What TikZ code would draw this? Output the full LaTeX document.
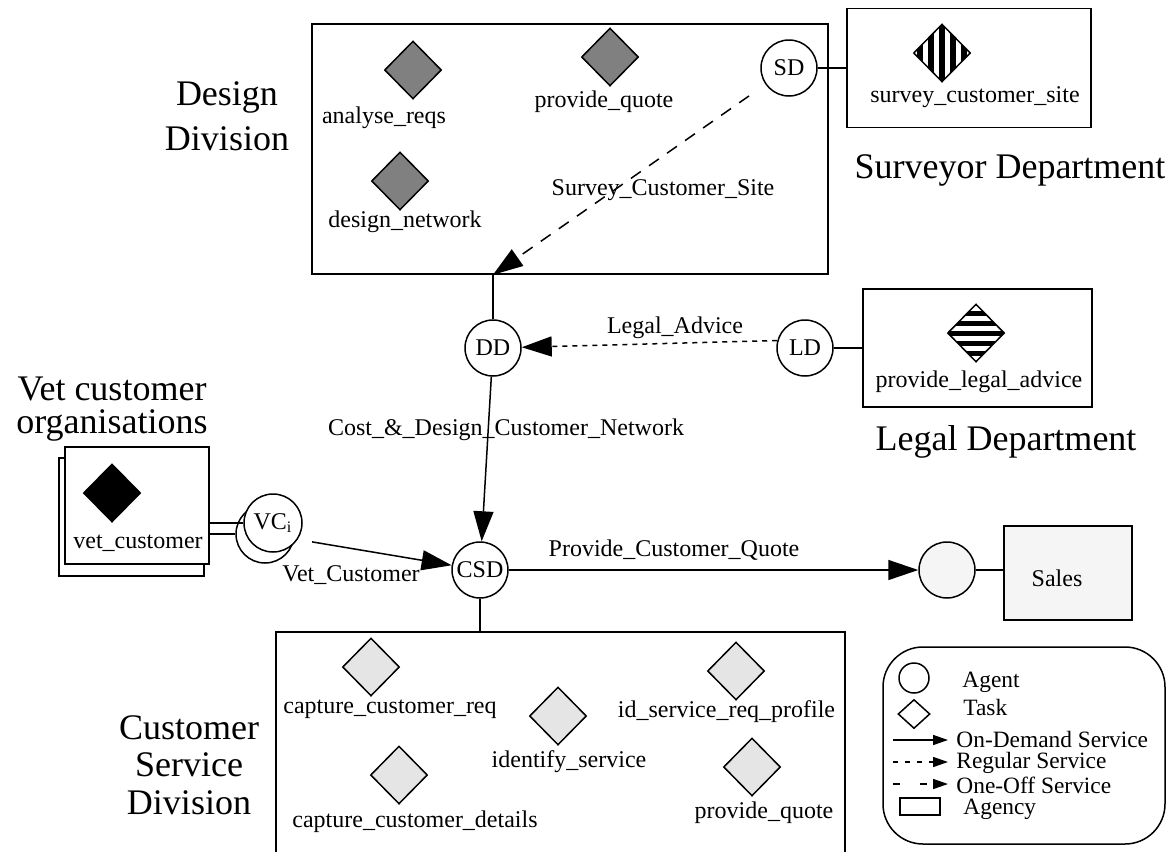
\documentclass[tikz,border=0pt]{standalone}
\usepackage{fontspec}
\setmainfont{Liberation Serif}
\usepackage{xcolor}
\usepackage{tikz}
\usetikzlibrary{shapes.geometric,arrows.meta}

\definecolor{taskdark}{RGB}{128,128,128}
\definecolor{tasklight}{RGB}{229,229,229}
\definecolor{salesfill}{RGB}{245,245,245}

\tikzset{
  agent/.style={circle,draw,line width=0.75pt,minimum size=28pt,inner sep=0pt,fill=white,font=\fontsize{12}{13}\selectfont},
  task/.style={diamond,draw,line width=0.75pt,minimum width=28.5pt,minimum height=29pt,inner sep=0pt},
  agency/.style={rectangle,draw,line width=0.75pt,inner sep=0pt},
  lbl/.style={font=\fontsize{12}{13}\selectfont,inner sep=0pt},
  lgd/.style={font=\fontsize{11.7}{12}\selectfont,inner sep=0pt,anchor=west},
  big/.style={align=center,inner sep=0pt},
  link/.style={line width=0.75pt},
  ondemand/.style={line width=0.75pt,-{Triangle[length=15pt,width=10pt]}},
  regular/.style={ondemand,dash pattern=on 2.5pt off 2.5pt},
  oneoff/.style={ondemand,dash pattern=on 6pt off 5pt},
  lgdondemand/.style={line width=0.75pt,-{Triangle[length=7.5pt,width=5pt]}},
  lgdregular/.style={lgdondemand,dash pattern=on 2.5pt off 3.5pt},
  lgdoneoff/.style={lgdondemand,dash pattern=on 3.5pt off 10pt},
  vstripes/.style={path picture={
    \foreach \k in {-3,...,3}
      \fill[black] ([xshift=\k*5.5pt-1.5pt,yshift=-16pt]path picture bounding box.center) rectangle ++(3pt,32pt);
  }},
  hstripes/.style={path picture={
    \foreach \k in {-3,...,3}
      \fill[black] ([yshift=\k*5pt-1.25pt,xshift=-16pt]path picture bounding box.center) rectangle ++(32pt,2.5pt);
  }}
}

\begin{document}
\begin{tikzpicture}[x=0.5pt,y=-0.5pt]
    \useasboundingbox (0,0) rectangle (1174,852);
    \clip (0,0) rectangle (1174,852);

    \node[agency,minimum width=258pt,minimum height=125pt] (DD_box) at (570,149) {};
    \node[big,font=\fontsize{18}{22.5}\selectfont] (DD_name) at (227,116) {Design\\Division};
    \node[task,fill=taskdark] (DD_1) at (413,70) {};
    \node[lbl] (DD_1l) at (384,118) {analyse\_reqs};
    \node[task,fill=taskdark] (DD_2) at (610,57) {};
    \node[lbl] (DD_2l) at (604,102) {provide\_quote};
    \node[task,fill=taskdark] (DD_3) at (400,181) {};
    \node[lbl] (DD_3l) at (405,222) {design\_network};
    \node[agent] (SD) at (789,68) {SD};

    \node[agency,minimum width=122pt,minimum height=59.5pt] (SD_box) at (969,68) {};
    \node[task,fill=white,vstripes] (SD_1) at (942,53) {};
    \node[lbl] (SD_1l) at (975,97) {survey\_customer\_site};
    \node[big,font=\fontsize{18}{22}\selectfont] (SD_name) at (1010,170) {Surveyor Department};

    \node[agent] (DD) at (493,348) {DD};
    \node[agent] (LD) at (805,348) {LD};
    \node[agency,minimum width=114.5pt,minimum height=59pt] (LD_box) at (977.5,348) {};
    \node[task,fill=white,hstripes] (LD_1) at (976,333) {};
    \node[lbl] (LD_1l) at (979,382) {provide\_legal\_advice};
    \node[big,font=\fontsize{18}{22}\selectfont] (LD_name) at (1006,442) {Legal Department};

    \node[big,font=\fontsize{18}{16.5}\selectfont] (VC_name) at (112,409) {Vet customer\\organisations};
    \node[agency,fill=white,minimum width=72.5pt,minimum height=59pt] (VC_back) at (131.5,517) {};
    \node[agency,fill=white,minimum width=72pt,minimum height=58.5pt] (VC_box) at (137,505.5) {};
    \node[task,fill=black] (VC_1) at (112,493) {};
    \node[lbl] (VC_1l) at (138,543) {vet\_customer};
    \node[agent,minimum size=29pt] (VC_2) at (265,534) {};
    \node[agent,minimum size=29pt] (VC_i) at (273,523) {VC\textsubscript{i}};

    \node[agent] (CSD) at (480,570) {CSD};
    \node[agent,fill=salesfill] (SA) at (947,570) {};
    \node[agency,fill=salesfill,minimum width=64pt,minimum height=47pt] (SA_box) at (1068,573) {};
    \node[lbl] (SA_name) at (1057,578) {Sales};

    \node[agency,minimum width=284.5pt,minimum height=124pt] (CSD_box) at (560.5,756) {};
    \node[big,font=\fontsize{18}{18.75}\selectfont] (CSD_name) at (189,765) {Customer\\Service\\Division};
    \node[task,fill=tasklight] (CSD_1) at (371,667) {};
    \node[lbl] (CSD_1l) at (390,709) {capture\_customer\_req};
    \node[task,fill=tasklight] (CSD_2) at (558,716) {};
    \node[lbl] (CSD_2l) at (569,762) {identify\_service};
    \node[task,fill=tasklight] (CSD_3) at (736,671) {};
    \node[lbl] (CSD_3l) at (726.5,712) {id\_service\_req\_profile};
    \node[task,fill=tasklight] (CSD_4) at (399,775) {};
    \node[lbl] (CSD_4l) at (415,822) {capture\_customer\_details};
    \node[task,fill=tasklight] (CSD_5) at (752,767) {};
    \node[lbl] (CSD_5l) at (764,813) {provide\_quote};

    \coordinate (DD_top) at (DD |- DD_box.south);
    \draw[link] (SD) -- (SD_box);
    \draw[link] (DD) -- (DD_top);
    \draw[link] (LD) -- (LD_box);
    \draw[link] (CSD) -- (CSD |- CSD_box.north);
    \draw[link] (SA.east) -- (SA.east -| SA_box.west);
    \draw[link] (VC_box.east |- VC_i.west) -- (VC_i.west);
    \draw[link] (VC_box.east |- VC_2.west) -- (VC_2.west);

    \draw[oneoff,shorten <=10pt] (SD) -- (DD_top);
    \draw[regular] (LD.165) -- (DD);
    \draw[ondemand] (DD) -- (CSD);
    \draw[ondemand,shorten <=9pt] (VC_2) -- (CSD);
    \draw[ondemand] (CSD) -- (SA);

    \node[lbl] (l_survey) at (663,190) {Survey\_Customer\_Site};
    \node[lbl] (l_legal) at (675,328) {Legal\_Advice};
    \node[lbl] (l_cost) at (506,430) {Cost\_\&\_Design\_Customer\_Network};
    \node[lbl] (l_vet) at (351,575) {Vet\_Customer};
    \node[lbl] (l_quote) at (674,550) {Provide\_Customer\_Quote};

    \node[agency,rounded corners=20pt,minimum width=141pt,minimum height=98.5pt] (KEY) at (1024,745.5) {};
    \node[agent,minimum size=15pt] (KEY_agent) at (914,678) {};
    \node[lgd] (KEY_agentl) at (962,682) {Agent};
    \node[task,minimum width=16pt,minimum height=14.5pt] (KEY_task) at (914,714) {};
    \node[lgd] (KEY_taskl) at (963,707) {Task};
    \coordinate (KEY_od1) at (893,740);
    \coordinate (KEY_od2) at (948,740);
    \node[lgd] (KEY_odl) at (956,739) {On-Demand Service};
    \coordinate (KEY_rs1) at (893,762);
    \coordinate (KEY_rs2) at (948,762);
    \node[lgd] (KEY_rsl) at (956,763) {Regular Service};
    \coordinate (KEY_oo1) at (893,784);
    \coordinate (KEY_oo2) at (948,784);
    \node[lgd] (KEY_ool) at (956,785) {One-Off Service};
    \node[agency,minimum width=20pt,minimum height=8.5pt] (KEY_agency) at (920,806.5) {};
    \node[lgd] (KEY_agencyl) at (963,809) {Agency};

    \draw[lgdondemand] (KEY_od1) -- (KEY_od2);
    \draw[lgdregular] (KEY_rs1) -- (KEY_rs2);
    \draw[lgdoneoff] (KEY_oo1) -- (KEY_oo2);
\end{tikzpicture}
\end{document}
